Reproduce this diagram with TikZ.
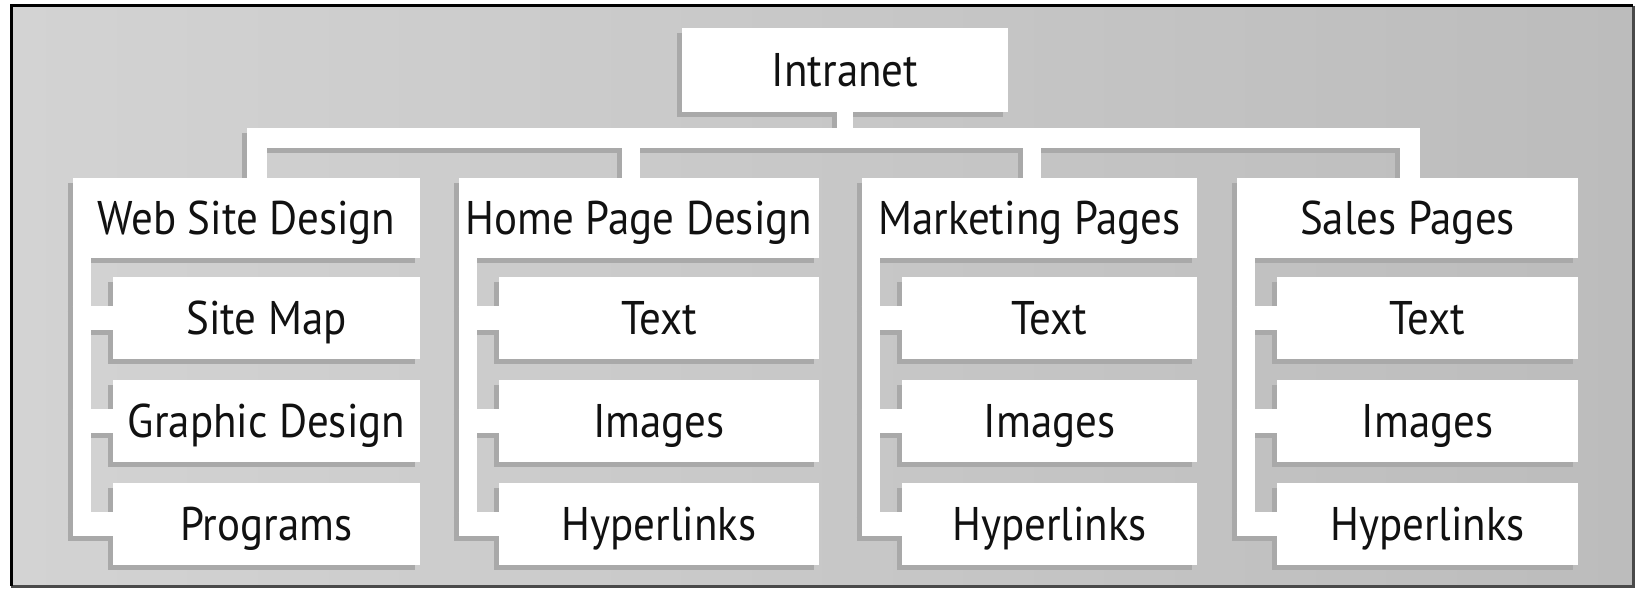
\documentclass[tikz,border=0pt]{standalone}
\usepackage{fontspec}
\setmainfont{PT Sans}[FakeStretch=0.91]
\definecolor{bgleft}{HTML}{D3D3D3}
\definecolor{bgright}{HTML}{BCBCBC}
\definecolor{shadecol}{HTML}{A9A9A9}
\definecolor{rimdark}{HTML}{4A4A4A}
\definecolor{ink}{HTML}{111111}
\pgfdeclarelayer{back}
\pgfdeclarelayer{shadow}
\pgfsetlayers{back,shadow,main}

\tikzset{
  box/.style={fill=white, inner sep=0pt, text=ink,
    text height=16.5pt, text depth=0pt,
    font=\fontsize{23.6pt}{28pt}\selectfont},
  topbox/.style={box, minimum height=42pt},
  headbox/.style={box, minimum height=40pt},
  itembox/.style={box, minimum height=41pt},
  wire/.style={draw=#1, line cap=butt, line join=miter},
}

% connectors of the chart, drawn in the colour given
\newcommand\wiring[1]{%
  \draw[wire=#1, line width=8pt] (root.south) -- (root.south |- bus);
  \draw[wire=#1, line width=10pt] (p1.north -| d1) -- (d1) -- (d4) -- (p4.north -| d4);
  \draw[wire=#1, line width=9pt] (d2) -- (d2 |- p2.north);
  \draw[wire=#1, line width=9pt] (d3) -- (d3 |- p3.north);
  \foreach \c in {1,2,3,4} {
    \draw[wire=#1, line width=9pt, line cap=rect] (b\c) -- (b\c |- c\c3.west);
    \foreach \k in {1,2,3}
      \draw[wire=#1, line width=12pt] (p\c.south west |- c\c\k.west) -- (c\c\k.west);
  }%
}

\begin{document}
\begin{tikzpicture}[x=0.5pt, y=-0.5pt]
\useasboundingbox (0,0) rectangle (1641,588);

% panel
\begin{pgfonlayer}{back}
  \shade[left color=bgleft, right color=bgright] (11,6) rectangle (1633,586);
  \draw[rimdark, line width=1.5pt] (1633,6) -- (1633,586) -- (11,586);
  \draw[black, line width=1.5pt] (11,586) -- (11,6) -- (1633,6);
\end{pgfonlayer}

% boxes
\node[topbox, minimum width=163pt] (root) at (845,70) {Intranet};

\node[headbox, minimum width=173.5pt] (p1) at (246.5,218) {Web Site Design};
\node[headbox, minimum width=180pt]   (p2) at (639,218)   {Home Page Design};
\node[headbox, minimum width=167.5pt] (p3) at (1029.5,218) {Marketing Pages};
\node[headbox, minimum width=170.5pt] (p4) at (1407.5,218) {Sales Pages};

\node[itembox, minimum width=153.5pt] (c11) at (266.5,318) {Site Map};
\node[itembox, minimum width=153.5pt] (c12) at (266.5,421) {Graphic Design};
\node[itembox, minimum width=153.5pt] (c13) at (266.5,524) {Programs};

\node[itembox, minimum width=160pt] (c21) at (659,318) {Text};
\node[itembox, minimum width=160pt] (c22) at (659,421) {Images};
\node[itembox, minimum width=160pt] (c23) at (659,524) {Hyperlinks};

\node[itembox, minimum width=147.5pt] (c31) at (1049.5,318) {Text};
\node[itembox, minimum width=147.5pt] (c32) at (1049.5,421) {Images};
\node[itembox, minimum width=147.5pt] (c33) at (1049.5,524) {Hyperlinks};

\node[itembox, minimum width=150.5pt] (c41) at (1427.5,318) {Text};
\node[itembox, minimum width=150.5pt] (c42) at (1427.5,421) {Images};
\node[itembox, minimum width=150.5pt] (c43) at (1427.5,524) {Hyperlinks};

% bus and branch points
\coordinate (bus) at (845,138);
\coordinate (d1) at (256.5,138);
\coordinate (d2) at (631,138);
\coordinate (d3) at (1031.5,138);
\coordinate (d4) at (1410,138);
\foreach \c in {1,2,3,4}
  \coordinate (b\c) at ([xshift=4.5pt]p\c.south west);

\wiring{white}

% drop shadows, below and to the left of every white shape
\begin{pgfonlayer}{shadow}
  \begin{scope}[transform canvas={xshift=-2.5pt, yshift=-2.5pt}]
    \wiring{shadecol}
    \foreach \n in {root,p1,p2,p3,p4,c11,c12,c13,c21,c22,c23,c31,c32,c33,c41,c42,c43}
      \fill[shadecol] (\n.south west) rectangle (\n.north east);
  \end{scope}
\end{pgfonlayer}
\end{tikzpicture}
\end{document}
